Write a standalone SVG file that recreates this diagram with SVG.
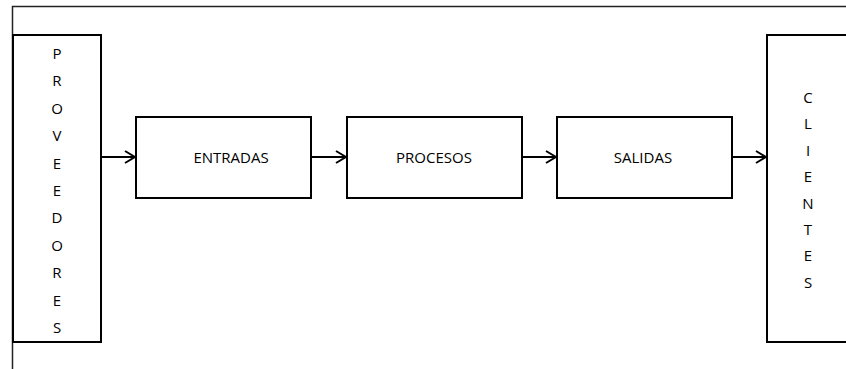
<svg xmlns="http://www.w3.org/2000/svg" width="846" height="369" viewBox="0 0 846 369">
<style>
.box{fill:#fff;stroke:#000;stroke-width:2}
.t{font-family:"Open Sans","Liberation Sans",sans-serif;font-size:15px;fill:#000;text-anchor:middle}
.c{stroke:#000;stroke-width:2;fill:none}
</style>
<defs>
<marker id="ah" markerWidth="12" markerHeight="14" refX="11" refY="7" orient="auto" markerUnits="userSpaceOnUse">
<path d="M1,1 L11,7 L1,13" fill="none" stroke="#000" stroke-width="2"/>
</marker>
</defs>
<rect width="846" height="369" fill="#fff"/>
<g id="frame">
<path d="M12.5,369 V6.5 H846" fill="none" stroke="#222" stroke-width="1.5"/>
</g>
<g id="proveedores">
<rect class="box" x="13" y="35" width="88" height="307"/>
<text class="t"><tspan x="57" y="59">P</tspan><tspan x="57" y="86.4">R</tspan><tspan x="57" y="113.8">O</tspan><tspan x="57" y="141.2">V</tspan><tspan x="57" y="168.6">E</tspan><tspan x="57" y="196">E</tspan><tspan x="57" y="223.4">D</tspan><tspan x="57" y="250.8">O</tspan><tspan x="57" y="278.2">R</tspan><tspan x="57" y="305.6">E</tspan><tspan x="57" y="333">S</tspan></text>
</g>
<g id="entradas">
<rect class="box" x="136" y="117" width="175" height="81"/>
<text class="t" x="231" y="163">ENTRADAS</text>
</g>
<g id="procesos">
<rect class="box" x="347" y="117" width="175" height="81"/>
<text class="t" x="434" y="163">PROCESOS</text>
</g>
<g id="salidas">
<rect class="box" x="557" y="117" width="175" height="81"/>
<text class="t" x="643" y="163">SALIDAS</text>
</g>
<g id="clientes">
<rect class="box" x="767" y="35" width="90" height="307"/>
<text class="t"><tspan x="808" y="103">C</tspan><tspan x="808" y="129.4">L</tspan><tspan x="808" y="155.8">I</tspan><tspan x="808" y="182.2">E</tspan><tspan x="808" y="208.6">N</tspan><tspan x="808" y="235">T</tspan><tspan x="808" y="261.4">E</tspan><tspan x="808" y="288">S</tspan></text>
</g>
<g id="connectors">
<line class="c" x1="101" y1="157" x2="135" y2="157" marker-end="url(#ah)"/>
<line class="c" x1="311" y1="157" x2="346" y2="157" marker-end="url(#ah)"/>
<line class="c" x1="522" y1="157" x2="556" y2="157" marker-end="url(#ah)"/>
<line class="c" x1="732" y1="157" x2="766" y2="157" marker-end="url(#ah)"/>
</g>
</svg>
